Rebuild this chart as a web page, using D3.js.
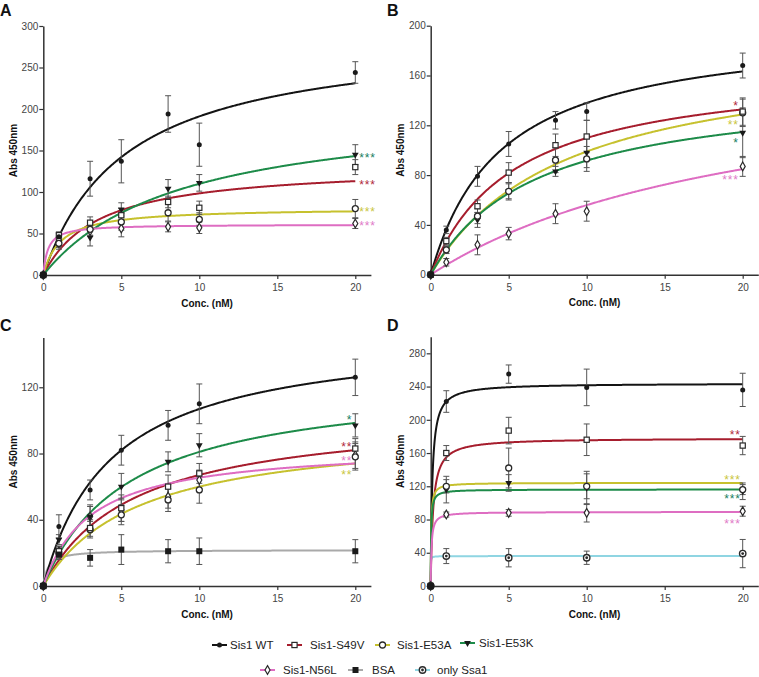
<!DOCTYPE html>
<html>
<head>
<meta charset="utf-8">
<script src="https://cdn.jsdelivr.net/npm/d3@7"></script>
<style>
  body { margin: 0; background: #fff; }
  text { font-family: "Liberation Sans", Arial, sans-serif; }
</style>
</head>
<body>
<div id="chart"></div>
<script>
// Data ------------------------------------------------------------------------
const conc = [0, 1, 3, 5, 8, 10, 20];
const concD = [0, 1, 5, 10, 20];
const xTicks = [0, 5, 10, 15, 20];

const seriesLabels = {
  WT: "Sis1 WT", S49V: "Sis1-S49V", E53A: "Sis1-E53A", E53K: "Sis1-E53K",
  N56L: "Sis1-N56L", BSA: "BSA", Ssa1: "only Ssa1"
};

// panel A
const seriesA = ["WT", "S49V", "E53A", "E53K", "N56L"];
const meanA = [
  [0, 46, 116, 137, 194, 157, 244],
  [0, 48, 63, 72, 88, 81, 130],
  [0, 38, 55, 64, 75, 67, 80],
  [0, 37, 45, 79, 104, 111, 145],
  [0, 42, 53, 56, 58, 57, 62]
];
const errA = [
  [0, 4, 21, 26, 22, 26, 13],
  [0, 4, 7, 8, 7, 8, 9],
  [0, 5, 8, 10, 10, 8, 11],
  [0, 6, 10, 8, 11, 10, 12],
  [0, 4, 5, 10, 6, 7, 6]
];
const bmaxA = [292, 133, 81, 206, 61];
const kdA = [5.28, 3.52, 1.12, 8.75, 0.3];
const starsA = ["", "***", "***", "***", "***"];
const yTicksA = [0, 50, 100, 150, 200, 250, 300];

// panel B
const seriesB = ["WT", "S49V", "E53A", "E53K", "N56L"];
const meanB = [
  [0, 36, 79, 105, 124, 131, 168],
  [0, 27, 55, 82, 104, 111, 131],
  [0, 20, 47, 67, 92, 93, 130],
  [0, 20, 44, 67, 83, 98, 114],
  [0, 10, 24, 33, 49, 51, 87]
];
const errB = [
  [0, 3, 8, 10, 7, 7, 10],
  [0, 3, 5, 8, 9, 13, 11],
  [0, 3, 6, 7, 10, 10, 11],
  [0, 3, 6, 6, 4, 12, 20],
  [0, 3, 8, 5, 8, 8, 8]
];
const bmaxB = [200, 168, 184, 153, 176];
const kdB = [4.5, 5.3, 8.6, 6.7, 21.5];
const starsB = ["", "*", "**", "*", "***"];
const yTicksB = [0, 40, 80, 120, 160, 200];

// panel C
const seriesC = ["BSA", "WT", "S49V", "E53A", "E53K", "N56L"];
const meanC = [
  [0, 19, 17, 22, 21, 21, 21],
  [0, 36, 58, 82, 97, 110, 126],
  [0, 21, 35, 47, 60, 68, 83],
  [0, 20, 34, 43, 52, 58, 78],
  [0, 28, 42, 60, 75, 85, 97],
  [0, 21, 42, 46, 54, 64, 79]
];
const errC = [
  [0, 3, 5, 9, 7, 8, 7],
  [0, 7, 6, 9, 9, 12, 11],
  [0, 3, 5, 8, 7, 6, 6],
  [0, 3, 5, 6, 7, 8, 8],
  [0, 3, 6, 8, 6, 7, 7],
  [0, 3, 7, 7, 7, 6, 8]
];
const bmaxC = [21.8, 153.5, 105.7, 96.5, 125.6, 85.2];
const kdC = [0.3, 4.36, 5.77, 6.09, 5.51, 3.03];
const starsC = ["", "", "**", "**", "*", "**"];
const yTicksC = [0, 40, 80, 120];

// panel D
const seriesD = ["Ssa1", "WT", "S49V", "E53A", "E53K", "N56L"];
const meanD = [
  [0, 36, 34, 34, 39],
  [0, 222, 255, 239, 236],
  [0, 160, 187, 176, 169],
  [0, 120, 142, 120, 116],
  [0, 116, 124, 118, 114],
  [0, 86, 88, 88, 90]
];
const errD = [
  [0, 9, 11, 8, 17],
  [0, 13, 11, 22, 20],
  [0, 9, 16, 19, 11],
  [0, 8, 24, 15, 6],
  [0, 16, 10, 20, 10],
  [0, 3, 4, 11, 6]
];
const bmaxD = [36, 244, 178, 124.2, 116.2, 89.2];
const kdD = [0.005, 0.1, 0.15, 0.03, 0.028, 0.05];
const starsD = ["", "", "**", "***", "***", "***"];
const yTicksD = [0, 40, 80, 120, 160, 200, 240, 280];

// Styles ----------------------------------------------------------------------
const lineColor = {
  WT: "#141414", S49V: "#a61d2d", E53A: "#c6c12e", E53K: "#1d8b49",
  N56L: "#de6dc2", BSA: "#a9a9a9", Ssa1: "#8fd5e2"
};
const starColor = {
  WT: "#141414", S49V: "#b0283a", E53A: "#c9c540", E53K: "#17805f",
  N56L: "#e07ac8", BSA: "#999", Ssa1: "#8fd5e2"
};

const width = 759;
const height = 677;

const svg = d3.select("#chart")
  .append("svg")
  .attr("width", width)
  .attr("height", height)
  .style("background", "#fff");

function drawMarker(g, key, cx, cy) {
  const m = g.append("g").attr("transform", `translate(${cx},${cy})`);
  if (key === "WT") {
    m.append("circle").attr("r", 2.5).attr("fill", "#1a1a1a");
  } else if (key === "S49V") {
    m.append("rect").attr("x", -2.6).attr("y", -2.6).attr("width", 5.2).attr("height", 5.2)
      .attr("fill", "#fff").attr("stroke", "#2a2a2a").attr("stroke-width", 1.2);
  } else if (key === "E53A") {
    m.append("circle").attr("r", 3).attr("fill", "#fff")
      .attr("stroke", "#2a2a2a").attr("stroke-width", 1.3);
  } else if (key === "E53K") {
    m.append("path").attr("d", d3.symbol(d3.symbolTriangle, 20)())
      .attr("transform", "rotate(180)").attr("fill", "#1a1a1a");
  } else if (key === "N56L") {
    m.append("path").attr("d", d3.symbol(d3.symbolDiamond, 22)())
      .attr("fill", "#fff").attr("stroke", "#2a2a2a").attr("stroke-width", 1.2);
  } else if (key === "BSA") {
    m.append("rect").attr("x", -3).attr("y", -3).attr("width", 6).attr("height", 6)
      .attr("fill", "#1a1a1a");
  } else if (key === "Ssa1") {
    m.append("circle").attr("r", 3.2).attr("fill", "#fff")
      .attr("stroke", "#2a2a2a").attr("stroke-width", 1.4);
    m.append("circle").attr("r", 1.4).attr("fill", "#2a2a2a");
  }
}

// Panels ----------------------------------------------------------------------
const panels = [
  { letter: "A", lx: 0, ly: 16, xr: [43.3, 370.9], yr: [275, 26], ymax: 300,
    yTicks: yTicksA, conc: conc, keys: seriesA, mean: meanA, err: errA,
    bmax: bmaxA, kd: kdA, stars: starsA,
    starAnchor: "start", starDx: 4, starDy: [0, 1, -2.5, -1, -2] },
  { letter: "B", lx: 387, ly: 16, xr: [430.7, 758.3], yr: [274.7, 25.7], ymax: 200,
    yTicks: yTicksB, conc: conc, keys: seriesB, mean: meanB, err: errB,
    bmax: bmaxB, kd: kdB, stars: starsB,
    starAnchor: "end", starDx: -4, starDy: [0, -6, 7, 7.5, 8] },
  { letter: "C", lx: 0, ly: 331, xr: [43.3, 370.9], yr: [586, 337.6], ymax: 150,
    yTicks: yTicksC, conc: conc, keys: seriesC, mean: meanC, err: errC,
    bmax: bmaxC, kd: kdC, stars: starsC,
    starAnchor: "end", starDx: -3, starDy: [0, 0, -6.5, 8.5, -6, -5] },
  { letter: "D", lx: 387, ly: 331, xr: [430.7, 758.3], yr: [586, 336.7], ymax: 300,
    yTicks: yTicksD, conc: concD, keys: seriesD, mean: meanD, err: errD,
    bmax: bmaxD, kd: kdD, stars: starsD,
    starAnchor: "end", starDx: -2, starDy: [0, 0, -7, -6.3, 6.4, 8.7] }
];

const fitX = d3.range(0, 1, 0.004).concat(d3.range(1, 20.001, 0.05));

panels.forEach(p => {
  const g = svg.append("g");
  const x = d3.scaleLinear().domain([0, 21]).range(p.xr);
  const y = d3.scaleLinear().domain([0, p.ymax]).range(p.yr);

  // panel letter
  g.append("text")
    .attr("x", p.lx).attr("y", p.ly)
    .attr("font-size", 16).attr("font-weight", "bold").attr("fill", "#111")
    .text(p.letter);

  // axes
  const gx = g.append("g")
    .attr("transform", `translate(0,${y(0)})`)
    .call(d3.axisBottom(x).tickValues(xTicks).tickSize(4).tickPadding(5).tickSizeOuter(0));
  const gy = g.append("g")
    .attr("transform", `translate(${x(0)},0)`)
    .call(d3.axisLeft(y).tickValues(p.yTicks).tickSize(4).tickPadding(1).tickSizeOuter(0));
  [gx, gy].forEach(a => {
    a.select(".domain").attr("stroke", "#333").attr("stroke-width", 1.5);
    a.selectAll(".tick line").attr("stroke", "#333").attr("stroke-width", 1.2);
    a.selectAll(".tick text").attr("fill", "#444").attr("font-size", 10)
      .attr("font-family", "Liberation Sans, Arial, sans-serif");
  });

  const xMid = (p.xr[0] + p.xr[1]) / 2;
  g.append("text")
    .attr("x", xMid).attr("y", y(0) + 31.5)
    .attr("text-anchor", "middle").attr("font-size", 10).attr("font-weight", "bold")
    .attr("fill", "#111")
    .text("Conc. (nM)");

  const yMid = (p.yr[0] + p.yr[1]) / 2;
  g.append("text")
    .attr("transform", `translate(${x(0) - 26.3},${yMid}) rotate(-90)`)
    .attr("text-anchor", "middle").attr("font-size", 10).attr("font-weight", "bold")
    .attr("fill", "#111")
    .text("Abs 450nm");

  // fitted curves
  const line = d3.line().x(d => x(d[0])).y(d => y(d[1]));
  p.keys.forEach((k, i) => {
    const pts = fitX.map(c => [c, p.bmax[i] * c / (p.kd[i] + c)]);
    g.append("path")
      .attr("d", line(pts))
      .attr("fill", "none")
      .attr("stroke", lineColor[k])
      .attr("stroke-width", 2)
      .attr("stroke-linejoin", "round");
  });

  // error bars
  p.keys.forEach((k, i) => {
    p.conc.forEach((c, j) => {
      const e = p.err[i][j];
      if (!e) return;
      const cx = x(c);
      const y1 = y(p.mean[i][j] - e), y2 = y(p.mean[i][j] + e);
      g.append("line").attr("x1", cx).attr("x2", cx).attr("y1", y1).attr("y2", y2)
        .attr("stroke", "#555").attr("stroke-width", 1);
      [y1, y2].forEach(yy => {
        g.append("line").attr("x1", cx - 3).attr("x2", cx + 3).attr("y1", yy).attr("y2", yy)
          .attr("stroke", "#555").attr("stroke-width", 1);
      });
    });
  });

  // markers (WT drawn last so the origin shows a dark dot)
  p.keys.slice().reverse().forEach(k => {
    const i = p.keys.indexOf(k);
    p.conc.forEach((c, j) => drawMarker(g, k, x(c), y(p.mean[i][j])));
  });
  g.append("circle").attr("cx", x(0)).attr("cy", y(0)).attr("r", 3.5).attr("fill", "#1a1a1a");

  // significance stars
  p.keys.forEach((k, i) => {
    if (!p.stars[i]) return;
    const yEnd = y(p.bmax[i] * 20 / (p.kd[i] + 20));
    g.append("text")
      .attr("x", x(20) + p.starDx)
      .attr("y", yEnd + p.starDy[i] + 7)
      .attr("text-anchor", p.starAnchor)
      .attr("font-size", 12)
      .attr("letter-spacing", 0.8)
      .attr("fill", starColor[k])
      .text(p.stars[i]);
  });
});

// Legend ----------------------------------------------------------------------
const legendKeys = ["WT", "S49V", "E53A", "E53K", "N56L", "BSA", "Ssa1"];
const legendPos = [
  [212, 645, 230], [287, 645, 310], [375, 645, 397], [460, 643, 479],
  [260, 670, 283], [348, 670, 372], [415, 670, 437]
];

const legend = svg.append("g");
legendKeys.forEach((k, i) => {
  const [lx, ly, tx] = legendPos[i];
  legend.append("line")
    .attr("x1", lx).attr("x2", lx + 15).attr("y1", ly).attr("y2", ly)
    .attr("stroke", lineColor[k]).attr("stroke-width", 2);
  drawMarker(legend, k, lx + 7.5, ly);
  legend.append("text")
    .attr("x", tx).attr("y", ly + 4)
    .attr("font-size", 11.5).attr("fill", "#222")
    .text(seriesLabels[k]);
});
</script>
</body>
</html>
